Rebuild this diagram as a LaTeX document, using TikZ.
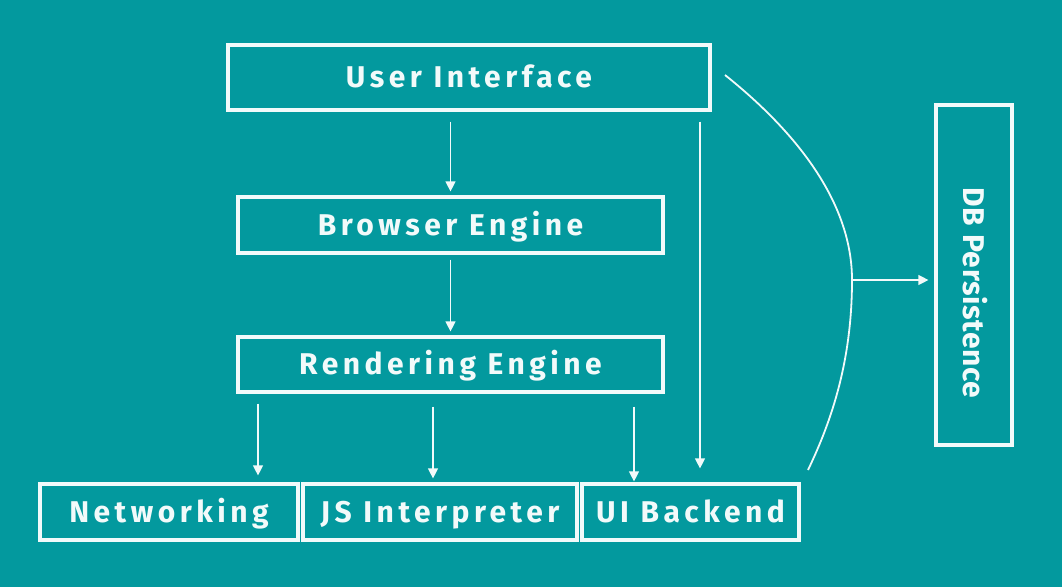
\documentclass[tikz,border=0pt]{standalone}
\usepackage{fontspec}
\setmainfont{Fira Sans}
\usetikzlibrary{arrows.meta}
\definecolor{bg}{HTML}{03999E}
\definecolor{chalk}{HTML}{F2FAFA}
\begin{document}
\begin{tikzpicture}[x=1pt,y=-1pt,
  box/.style={draw=chalk,line width=3.2pt,rectangle,inner sep=0pt,text=chalk,
    text height=20.5pt,text depth=0pt,
    font=\fontsize{30}{32}\selectfont\bfseries\addfontfeature{LetterSpace=15}},
  arr/.style={draw=chalk,line width=1.2pt,-{Triangle[width=10pt,length=10pt]}},
  curve/.style={draw=chalk,line width=1.8pt}]
\fill[bg] (0,0) rectangle (1062,587);
\useasboundingbox (0,0) rectangle (1062,587);
\node[box,minimum width=482pt,minimum height=65pt] (UI) at (469,77.5) {User Interface};
\node[box,minimum width=425pt,minimum height=56pt] (BE) at (450.5,225) {Browser Engine};
\node[box,minimum width=425pt,minimum height=55pt] (RE) at (450.5,364.5) {Rendering Engine};
\node[box,minimum width=258pt,minimum height=56pt] (NET) at (169,512) {Networking};
\node[box,minimum width=274pt,minimum height=56pt] (JS) at (440,512) {JS Interpreter};
\node[box,minimum width=217pt,minimum height=56pt] (UIB) at (690.5,512) {UI Backend};
\node[box,minimum width=76pt,minimum height=340pt] (DB) at (974,275) {};
\node[text=chalk,rotate=-90,text height=20.5pt,text depth=0pt,font=\fontsize{30}{32}\selectfont\bfseries\addfontfeature{LetterSpace=2}] (DBT) at ([yshift=-18pt]DB.center) {DB Persistence};
% arrows
\draw[arr] ([yshift=-10pt]UI.south -| BE.north) -- ([yshift=4pt]BE.north);
\draw[arr] ([yshift=-5pt]BE.south) -- ([yshift=4pt]RE.north);
\draw[arr] ([xshift=-192.5pt,yshift=-10pt]RE.south) -- ([xshift=89pt,yshift=7pt]NET.north);
\draw[arr] ([xshift=-17.5pt,yshift=-13pt]RE.south) -- ([xshift=-7pt,yshift=4pt]JS.north);
\draw[arr] ([xshift=183.5pt,yshift=-13pt]RE.south) -- ([xshift=-56.5pt,yshift=1pt]UIB.north);
\draw[arr] ([xshift=231pt,yshift=-10pt]UI.south) -- ([xshift=9.5pt,yshift=14pt]UIB.north);
% arc
\coordinate (a1) at (725,75);
\coordinate (a2) at (852,280);
\coordinate (a3) at (808,470);
\draw[curve] (a1) .. controls (800,135) and (852,205) .. (a2) .. controls (852,360) and (832,420) .. (a3);
\draw[arr] (a2) -- ([xshift=-6pt]DB.west |- a2);
\end{tikzpicture}
\end{document}
